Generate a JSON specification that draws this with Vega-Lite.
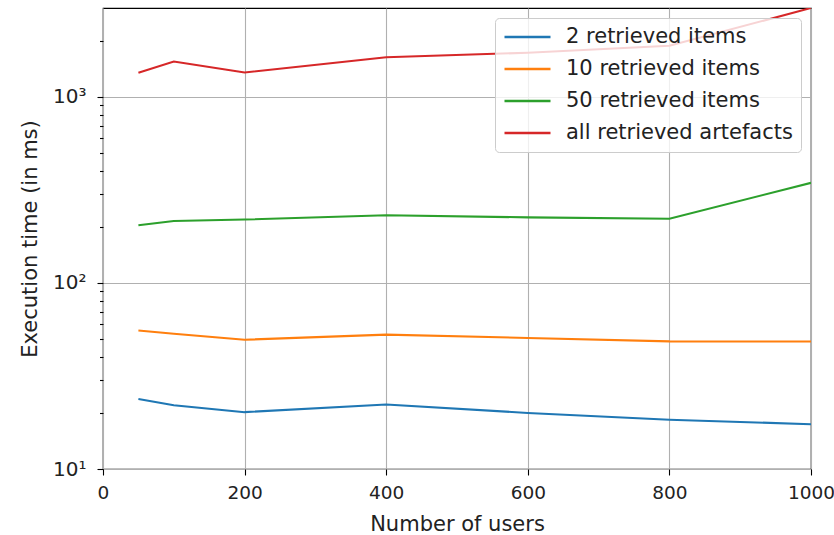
{
  "$schema": "https://vega.github.io/schema/vega-lite/v6.json",
  "width": 708,
  "height": 461,
  "autosize": "none",
  "padding": {"left": 103, "top": 8, "right": 23, "bottom": 66},
  "background": "white",
  "config": {
    "font": "DejaVu Sans",
    "view": {"stroke": "black", "strokeWidth": 1.2},
    "axis": {
      "labelFont": "DejaVu Sans",
      "titleFont": "DejaVu Sans",
      "labelFontSize": 19,
      "titleFontSize": 21,
      "titleFontWeight": "normal",
      "labelColor": "#222",
      "titleColor": "#222",
      "gridColor": "#b0b0b0",
      "gridWidth": 1.1,
      "tickColor": "black",
      "tickWidth": 1.1,
      "domain": false
    }
  },
  "data": {
    "values": [
      {"users": 50, "time": 23.8, "series": "2 retrieved items"},
      {"users": 100, "time": 22.0, "series": "2 retrieved items"},
      {"users": 200, "time": 20.2, "series": "2 retrieved items"},
      {"users": 400, "time": 22.2, "series": "2 retrieved items"},
      {"users": 600, "time": 20.0, "series": "2 retrieved items"},
      {"users": 800, "time": 18.4, "series": "2 retrieved items"},
      {"users": 1000, "time": 17.4, "series": "2 retrieved items"},
      {"users": 50, "time": 55.5, "series": "10 retrieved items"},
      {"users": 100, "time": 53.3, "series": "10 retrieved items"},
      {"users": 200, "time": 49.5, "series": "10 retrieved items"},
      {"users": 400, "time": 52.7, "series": "10 retrieved items"},
      {"users": 600, "time": 50.6, "series": "10 retrieved items"},
      {"users": 800, "time": 48.5, "series": "10 retrieved items"},
      {"users": 1000, "time": 48.4, "series": "10 retrieved items"},
      {"users": 50, "time": 204, "series": "50 retrieved items"},
      {"users": 100, "time": 215, "series": "50 retrieved items"},
      {"users": 200, "time": 219, "series": "50 retrieved items"},
      {"users": 400, "time": 231, "series": "50 retrieved items"},
      {"users": 600, "time": 225, "series": "50 retrieved items"},
      {"users": 800, "time": 221, "series": "50 retrieved items"},
      {"users": 1000, "time": 345, "series": "50 retrieved items"},
      {"users": 50, "time": 1346, "series": "all retrieved artefacts"},
      {"users": 100, "time": 1548, "series": "all retrieved artefacts"},
      {"users": 200, "time": 1351, "series": "all retrieved artefacts"},
      {"users": 400, "time": 1632, "series": "all retrieved artefacts"},
      {"users": 600, "time": 1725, "series": "all retrieved artefacts"},
      {"users": 800, "time": 1880, "series": "all retrieved artefacts"},
      {"users": 1000, "time": 3000, "series": "all retrieved artefacts"}
    ]
  },
  "mark": {"type": "line", "strokeWidth": 2.1, "clip": true},
  "encoding": {
    "x": {
      "field": "users",
      "type": "quantitative",
      "scale": {"domain": [0, 1000], "nice": false, "zero": false},
      "axis": {
        "title": "Number of users",
        "values": [0, 200, 400, 600, 800, 1000],
        "format": "d",
        "labelFontSize": 18.5,
        "labelDx": -2,
        "tickSize": 6,
        "labelPadding": 8,
        "titlePadding": 12,
        "labelFlush": false
      }
    },
    "y": {
      "field": "time",
      "type": "quantitative",
      "scale": {"type": "log", "domain": [10, 3000], "nice": false},
      "axis": {
        "title": "Execution time (in ms)",
        "values": [10, 20, 30, 40, 50, 60, 70, 80, 90, 100, 200, 300, 400, 500, 600, 700, 800, 900, 1000, 2000],
        "labelExpr": "datum.value == 10 ? '10¹' : datum.value == 100 ? '10²' : datum.value == 1000 ? '10³' : ''",
        "gridOpacity": {"condition": {"test": "datum.value == 10 || datum.value == 100 || datum.value == 1000", "value": 1}, "value": 0},
        "tickSize": {"condition": {"test": "datum.value == 10 || datum.value == 100 || datum.value == 1000", "value": 6}, "value": 3.5},
        "labelFontSize": 20,
        "labelPadding": 11,
        "titlePadding": 12,
        "labelFlush": false
      }
    },
    "color": {
      "field": "series",
      "type": "nominal",
      "sort": ["2 retrieved items", "10 retrieved items", "50 retrieved items", "all retrieved artefacts"],
      "scale": {"range": ["#1f77b4", "#ff7f0e", "#2ca02c", "#d62728"]},
      "legend": {
        "title": null,
        "orient": "top-right",
        "offset": 10,
        "fillColor": "rgba(255,255,255,0.8)",
        "strokeColor": "#cccccc",
        "cornerRadius": 4,
        "padding": 8,
        "symbolType": "stroke",
        "symbolSize": 2116,
        "symbolStrokeWidth": 2.5,
        "clipHeight": 22,
        "rowPadding": 10,
        "labelFont": "DejaVu Sans",
        "labelFontSize": 21,
        "labelLimit": 400,
        "labelColor": "#222",
        "labelOffset": 14
      }
    }
  }
}
